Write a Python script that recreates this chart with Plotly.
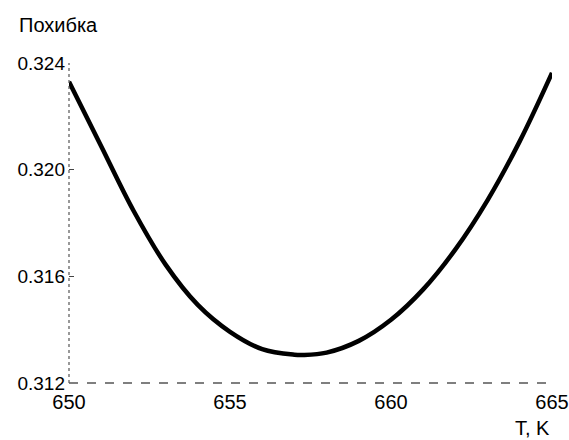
import plotly.graph_objects as go

# Data
T = [650, 651, 652, 653, 654, 655, 656, 657, 657.3, 658, 659, 660, 661, 662, 663, 664, 665]
ERR = [0.3233, 0.32088, 0.31847, 0.31644, 0.31493, 0.31392, 0.31327, 0.31306, 0.31305,
       0.31314, 0.31358, 0.31437, 0.31551, 0.31701, 0.31886, 0.32107, 0.32363]

X_TICKS = [650, 655, 660, 665]
Y_TICKS = [0.312, 0.316, 0.320, 0.324]
Y_TICK_TEXT = ["0.312", "0.316", "0.320", "0.324"]
Y_TITLE = "Похибка"
X_TITLE = "T, K"

FONT = "Liberation Sans, Arial, sans-serif"

fig = go.Figure()
fig.add_trace(go.Scatter(
    x=T, y=ERR, mode="lines",
    line=dict(color="black", width=4.5, shape="spline", smoothing=1.0),
    hoverinfo="skip", showlegend=False,
))

fig.update_layout(
    width=569, height=440,
    margin=dict(l=69, r=17, t=63, b=57),
    paper_bgcolor="white", plot_bgcolor="white",
    font=dict(family=FONT, size=19, color="black"),
    xaxis=dict(
        range=[650, 665], tickvals=X_TICKS, showgrid=False, zeroline=False,
        showline=False, ticks="", ticklabelstandoff=5, automargin=False,
        tickfont=dict(size=20), fixedrange=True,
    ),
    yaxis=dict(
        range=[0.312, 0.324], tickvals=Y_TICKS, ticktext=Y_TICK_TEXT,
        showgrid=False, zeroline=False, showline=False, automargin=False,
        ticks="inside", ticklen=5, tickcolor="#444", tickwidth=1,
        ticklabelstandoff=3, tickfont=dict(size=19), fixedrange=True,
    ),
    shapes=[
        dict(type="line", xref="paper", yref="paper", x0=0, x1=0, y0=0, y1=1,
             line=dict(color="#555", width=1.2, dash="dot")),
        dict(type="line", xref="paper", yref="paper", x0=0, x1=1, y0=0, y1=0,
             line=dict(color="#555", width=1.5, dash="dash")),
    ],
    annotations=[
        dict(text=Y_TITLE, xref="paper", yref="paper", x=-0.108, y=1.0, yshift=38,
             xanchor="left", yanchor="middle", showarrow=False,
             font=dict(size=20, family=FONT)),
        dict(text=X_TITLE, xref="paper", yref="paper", x=1.0, y=0, yshift=-45,
             xanchor="right", yanchor="middle", showarrow=False,
             font=dict(size=20, family=FONT)),
    ],
)

# remove the default page margin so the figure fills the window exactly
fig.write_html(
    "out.html",
    config={"displayModeBar": False},
    post_script="document.body.style.margin='0px';document.body.style.overflow='hidden';",
)
